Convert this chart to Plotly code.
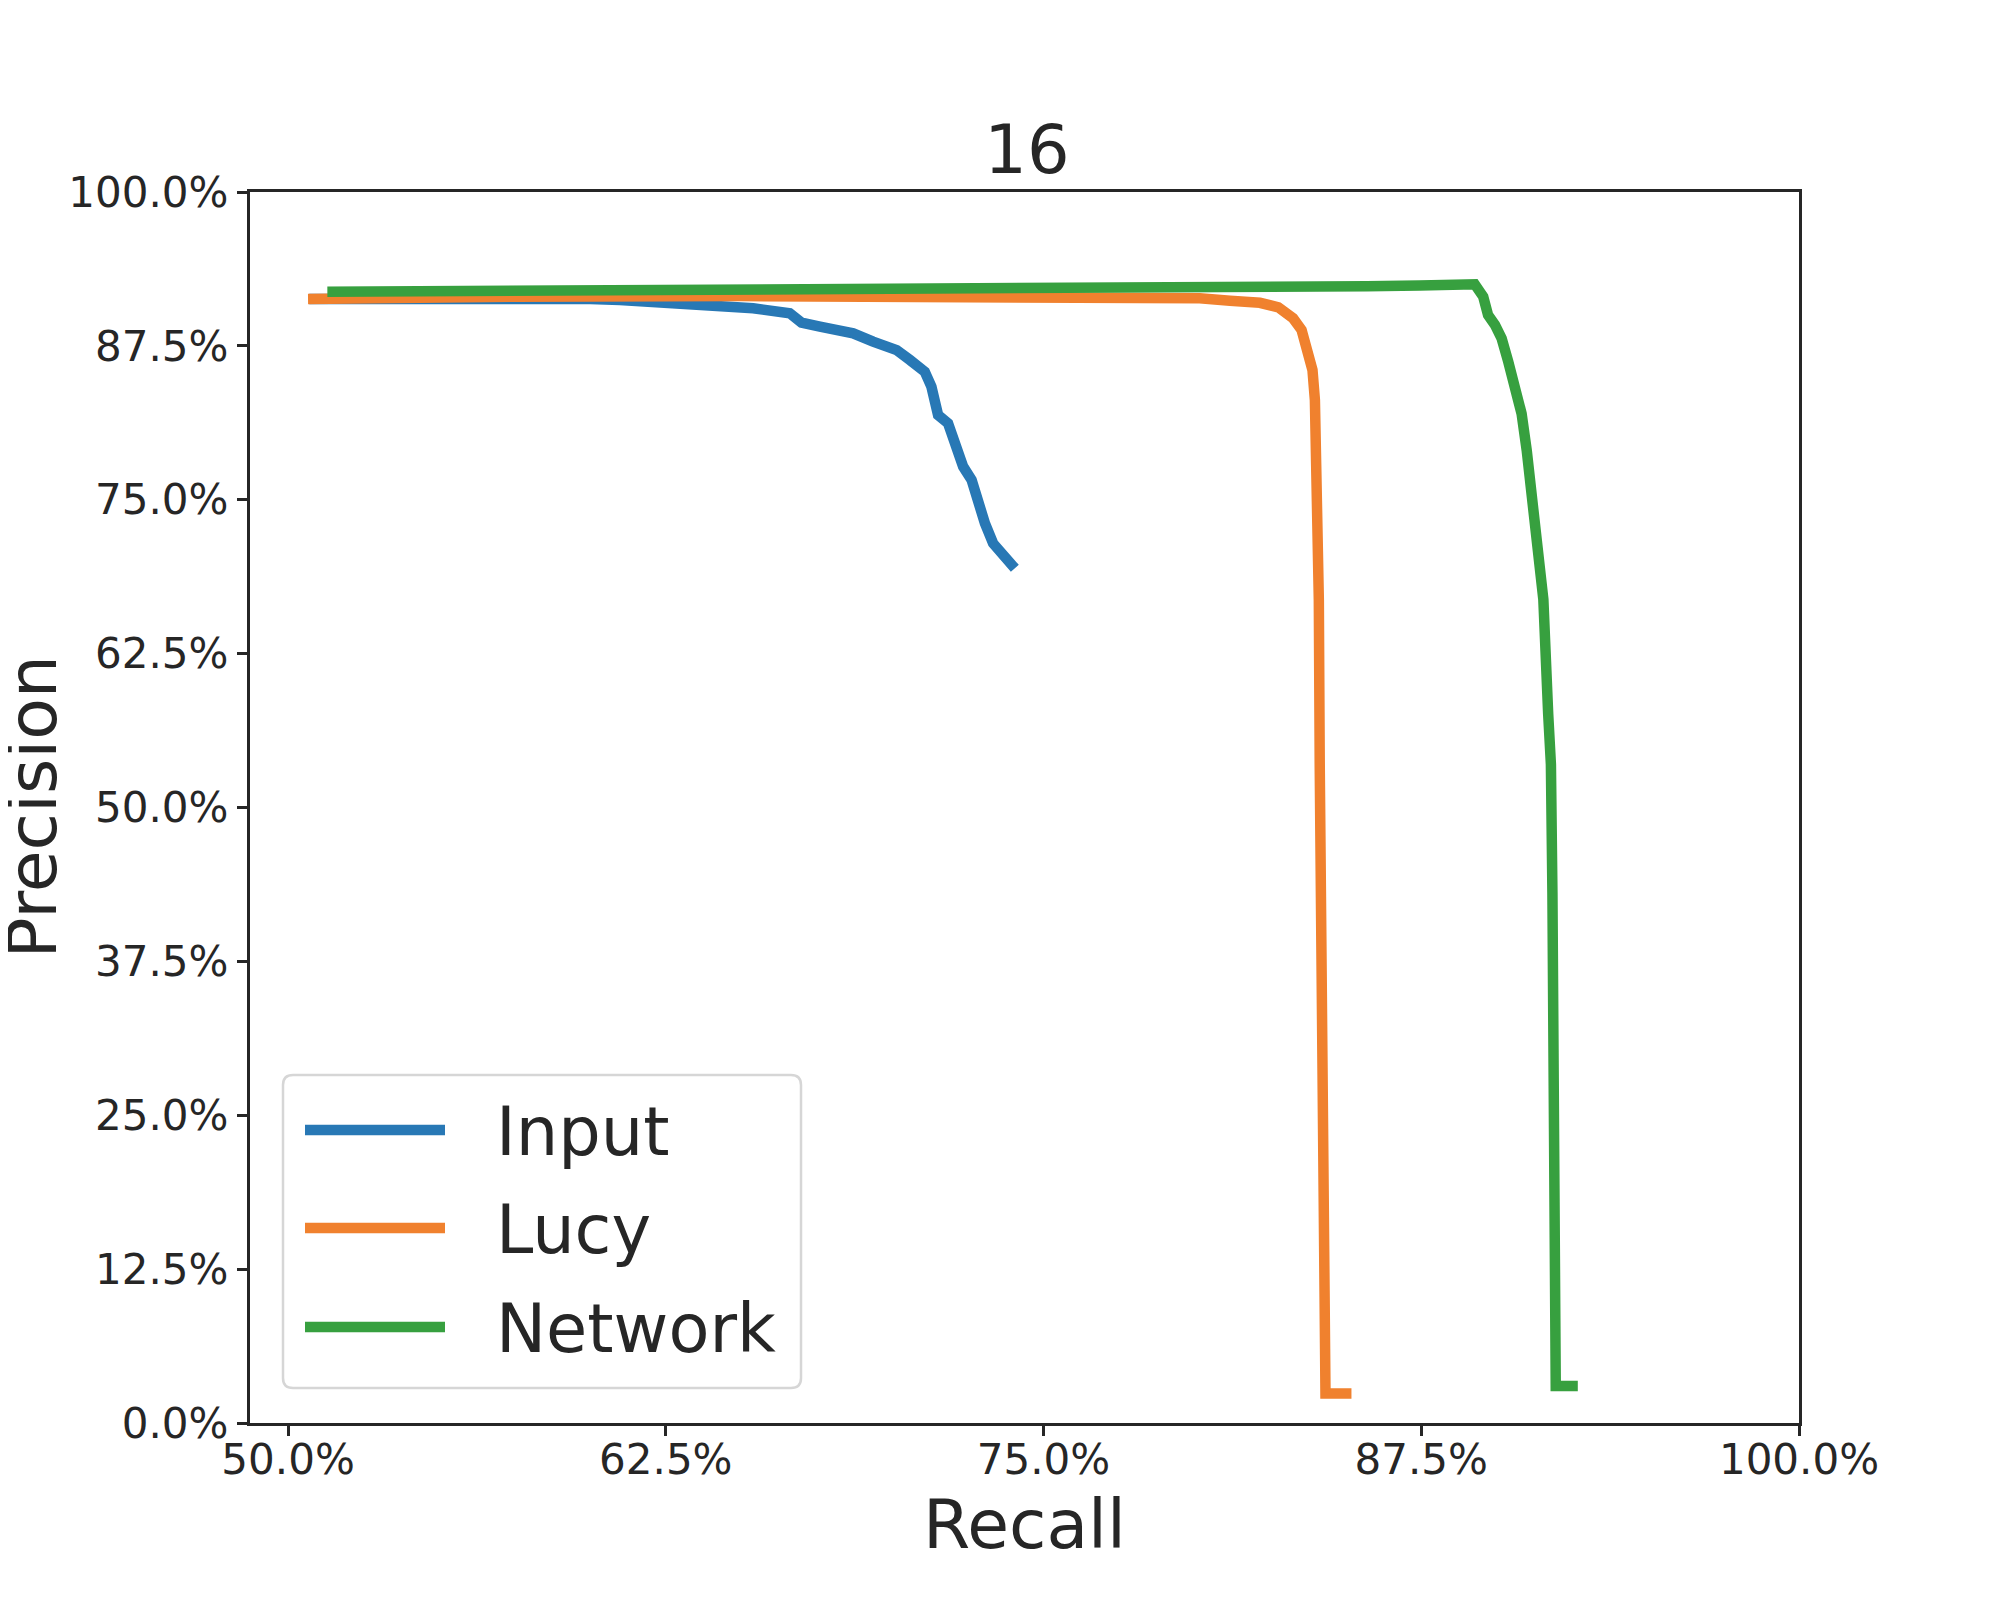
import plotly.graph_objects as go

# precision / recall curves (percent)
input_recall = [50.7, 56.0, 60.0, 60.98, 62.63, 64.29, 65.39, 66.60, 66.99, 67.60, 68.70, 69.36, 70.14,
                70.58, 71.07, 71.29, 71.51, 71.84, 72.12, 72.34, 72.62, 72.84, 73.06, 73.33, 73.61, 74.05]
input_precision = [91.3, 91.4, 91.3, 91.23, 91.04, 90.82, 90.55, 90.15, 89.39, 89.06, 88.52, 87.84, 87.16,
                   86.35, 85.40, 84.18, 81.88, 81.21, 79.31, 77.69, 76.60, 74.71, 73.09, 71.46, 70.78, 69.43]

lucy_recall = [50.66, 56.0, 57.5, 65.0, 74.0, 78.0, 80.17, 81.17, 82.16, 82.77, 83.26, 83.54, 83.76,
               83.90, 83.98, 84.03, 84.09, 84.11, 84.14, 84.23, 84.32, 84.35, 84.33, 85.19]
lucy_precision = [91.3, 91.3, 91.5, 91.55, 91.5, 91.45, 91.36, 91.17, 91.0, 90.63, 89.74, 88.79, 87.16,
                  85.54, 83.10, 79.04, 74.98, 66.86, 53.45, 32.7, 12.0, 10.0, 2.4, 2.4]

network_recall = [51.30, 56.5, 57.5, 64.8, 68.0, 74.0, 80.17, 83.48, 85.70, 87.45, 88.99, 89.27, 89.55,
                  89.71, 89.94, 90.16, 90.38, 90.60, 90.82, 90.99, 91.15, 91.32, 91.48, 91.54, 91.70,
                  91.79, 91.84, 91.88, 91.92, 91.96, 92.0, 91.95, 92.68]
network_precision = [91.9, 91.95, 92.05, 92.1, 92.15, 92.2, 92.1, 92.2, 92.35, 92.4, 92.5, 92.5, 91.5,
                     90.0, 89.2, 88.1, 86.2, 84.2, 82.0, 79.0, 75.8, 72.5, 69.3, 66.9, 57.6,
                     53.5, 43.1, 32.7, 22.3, 12.0, 10.0, 3.0, 3.0]

series_names = ["Input", "Lucy", "Network"]
colors = ["#2878b5", "#f0812e", "#37a03f"]

x_ticks = [50, 62.5, 75, 87.5, 100]
x_ticktext = ["50.0%", "62.5%", "75.0%", "87.5%", "100.0%"]
y_ticks = [0, 12.5, 25, 37.5, 50, 62.5, 75, 87.5, 100]
y_ticktext = ["0.0%", "12.5%", "25.0%", "37.5%", "50.0%", "62.5%", "75.0%", "87.5%", "100.0%"]

W, H = 2000, 1600
OFF = 8  # page body margin
L, T = 250 - OFF, 192 - OFF
PW, PH = 1549, 1231
R, B = W - L - PW, H - T - PH
INK = "#262626"
FONT = "DejaVu Sans"


def px(x):
    # screen x (target picture) -> paper
    return (x - 250) / PW


def py(y):
    return (1423 - y) / PH


fig = go.Figure()
curves = [(input_recall, input_precision), (lucy_recall, lucy_precision), (network_recall, network_precision)]
for (xs, ys), name, c in zip(curves, series_names, colors):
    fig.add_trace(go.Scatter(x=xs, y=ys, mode="lines", name=name,
                             line=dict(color=c, width=10.5), showlegend=False))

# legend box drawn by hand (matplotlib style, long line samples)
bx0, bx1, by0, by1, rr = 283, 801, 1075, 1388, 10
rx, ry = rr / PW, rr / PH
X0, X1, Y0, Y1 = px(bx0), px(bx1), py(by1), py(by0)
path = (f"M{X0 + rx},{Y0} L{X1 - rx},{Y0} Q{X1},{Y0} {X1},{Y0 + ry} "
        f"L{X1},{Y1 - ry} Q{X1},{Y1} {X1 - rx},{Y1} L{X0 + rx},{Y1} "
        f"Q{X0},{Y1} {X0},{Y1 - ry} L{X0},{Y0 + ry} Q{X0},{Y0} {X0 + rx},{Y0} Z")
fig.add_shape(type="path", path=path, xref="paper", yref="paper",
              line=dict(color="#d6d6d6", width=2.5), fillcolor="rgba(255,255,255,0.8)")
rows = [1130, 1228, 1327]
for name, c, ry_px in zip(series_names, colors, rows):
    fig.add_shape(type="line", xref="paper", yref="paper", x0=px(305), x1=px(445),
                  y0=py(ry_px), y1=py(ry_px), line=dict(color=c, width=10.5))
    fig.add_annotation(x=px(494), y=py(ry_px + 2), xref="paper", yref="paper", text=name,
                       showarrow=False, xanchor="left", yanchor="middle",
                       font=dict(family=FONT, size=67, color=INK))

# axis titles
fig.add_annotation(x=0.5, y=py(1524), xref="paper", yref="paper", text="Recall", showarrow=False,
                   xanchor="center", yanchor="middle", borderpad=0,
                   font=dict(family=FONT, size=68, color=INK))
fig.add_annotation(x=px(32), y=0.5, xref="paper", yref="paper", text="Precision", showarrow=False,
                   textangle=-90, xanchor="center", yanchor="middle", borderpad=0,
                   font=dict(family=FONT, size=68, color=INK))

axis_common = dict(showline=True, linewidth=3.3, linecolor=INK, mirror=True, showgrid=False,
                   zeroline=False, ticks="outside", ticklen=10, tickwidth=3, tickcolor=INK,
                   tickfont=dict(family=FONT, size=42, color=INK))

fig.update_layout(
    width=W, height=H,
    margin=dict(l=L, r=R, t=T, b=B),
    paper_bgcolor="white", plot_bgcolor="white",
    title=dict(text="16", x=(1027 - OFF) / W, xanchor="center", y=1 - 142 / H, yanchor="middle",
               font=dict(family=FONT, size=67, color=INK)),
    xaxis=dict(range=[48.74, 100], tickvals=x_ticks, ticktext=x_ticktext, ticklabelstandoff=-13,
               **axis_common),
    yaxis=dict(range=[0, 100], tickvals=y_ticks, ticktext=y_ticktext, **axis_common),
)

fig.write_html("out.html")
